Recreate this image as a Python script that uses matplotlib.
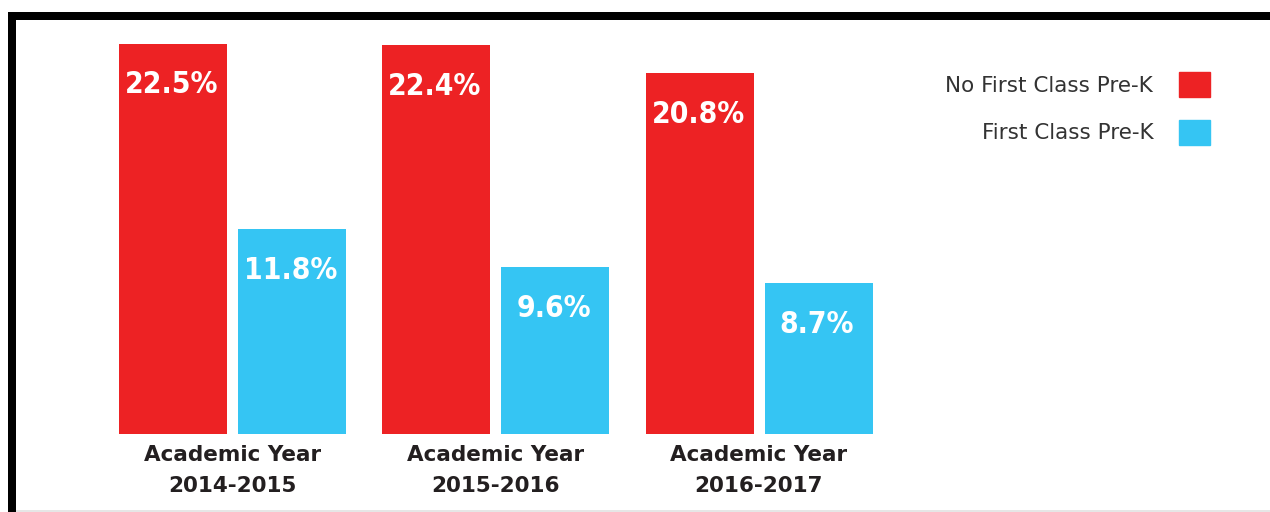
import matplotlib
matplotlib.use("Agg")
import matplotlib.pyplot as plt
from matplotlib import font_manager
from matplotlib.patches import Patch, Rectangle

###
# DATA
###
years = ["2014-2015", "2015-2016", "2016-2017"]
no_first_class = [22.5, 22.4, 20.8]
first_class = [11.8, 9.6, 8.7]
series_names = ["No First Class Pre-K", "First Class Pre-K"]

red = "#ED2224"
blue = "#35C5F3"
dark = "#231F20"

## look for a condensed face, the original uses a narrow geometric font
fm = font_manager.fontManager
cond = [f for f in fm.ttflist if f.stretch in ("condensed", "semi-condensed",
                                                "extra-condensed") or "Narrow" in f.name]
if cond:
    vfont = {"family": cond[0].name, "fontstretch": cond[0].stretch}
    vsize = 21.5
else:
    vfont = {"family": "DejaVu Sans"}
    vsize = 19

W, H = 1270, 512
fig = plt.figure(figsize=(W / 100, H / 100), dpi=100)

# axes placed in pixels: left edge at frame, bottom at bar baseline
ax = fig.add_axes([16 / W, 78 / H, (W - 16) / W, 414 / H])
px_per_group = 263.25
x0 = 232.5
ax.set_xlim((16 - x0) / px_per_group, (W - x0) / px_per_group)
ax.set_ylim(0, 414 / 17.35)

bw = 108 / px_per_group
off = 59.5 / px_per_group
xs = list(range(len(years)))

b1 = ax.bar([x - off for x in xs], no_first_class, bw, color=red, label=series_names[0])
b2 = ax.bar([x + off for x in xs], first_class, bw, color=blue, label=series_names[1])

## value labels inside the top of each bar
for bars, vals in ((b1, no_first_class), (b2, first_class)):
    for rect, v in zip(bars, vals):
        ax.annotate(f"{v}%", (rect.get_x() + rect.get_width() / 2, v),
                    xytext=(-1, -41 * 0.72), textcoords="offset points",
                    ha="center", va="center", color="white",
                    fontsize=vsize, fontweight="bold", **vfont)

ax.set_xticks(xs)
ax.set_xticklabels([f"Academic Year\n{y}" for y in years], fontsize=15.5,
                   fontweight="bold", color=dark, linespacing=1.7)
ax.tick_params(axis="x", length=0, pad=8)
ax.set_yticks([])
for s in ax.spines.values():
    s.set_visible(False)

## legend: text on the left, swatch on the right
handles = [Patch(color=red), Patch(color=blue)]
fs = 15.5
fpx = fs * 100 / 72
ax.legend(handles, series_names, loc="upper right", markerfirst=False, frameon=False,
          bbox_to_anchor=(1210 / W, 1 - 72 / H), bbox_transform=fig.transFigure,
          borderaxespad=0, borderpad=0, handlelength=31 / fpx,
          handleheight=30.5 / fpx, handletextpad=1.2, labelspacing=1.05,
          prop={"family": "DejaVu Sans", "size": fs}, labelcolor="#333333")

## black frame on top and left, faint line at the bottom
fig.add_artist(Rectangle((8 / W, 1 - 20 / H), 1 - 8 / W, 8 / H,
                         transform=fig.transFigure, color="black", lw=0))
fig.add_artist(Rectangle((8 / W, 0), 8 / W, 1 - 12 / H,
                         transform=fig.transFigure, color="black", lw=0))
fig.add_artist(Rectangle((16 / W, 0), 1, 2 / H,
                         transform=fig.transFigure, color="#e6e6e6", lw=0))

fig.savefig("out.png", dpi=100)
